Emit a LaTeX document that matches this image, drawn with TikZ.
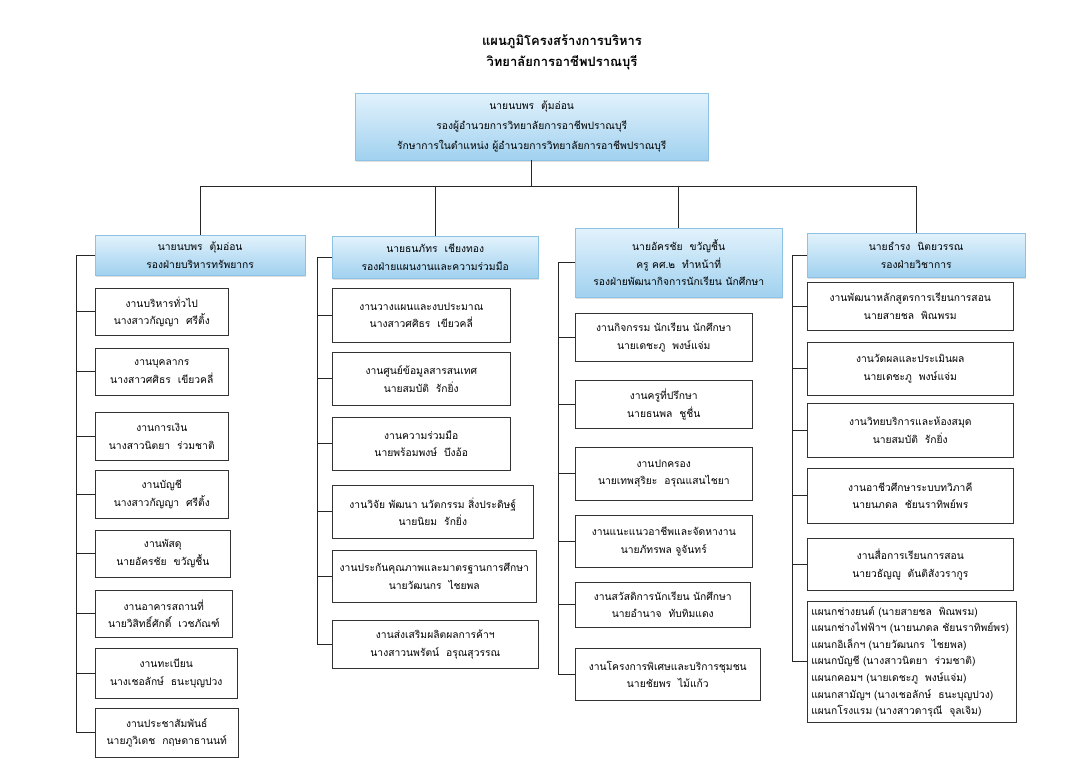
\documentclass[tikz,border=0pt]{standalone}
\usepackage{fontspec}
\newfontfamily\thaifont[Script=Thai]{Loma}
\usetikzlibrary{positioning,shadows}
\definecolor{headtop}{RGB}{226,242,252}
\definecolor{headbot}{RGB}{160,209,239}
\definecolor{headline}{RGB}{140,195,228}

\begin{document}
\begin{tikzpicture}[x=1pt,y=-1pt,
every node/.style = {font=\thaifont\fontsize{10.3}{17.5}\selectfont, align=center},
  head/.style = {draw=headline, top color=headtop, bottom color=headbot, anchor=north west,
    drop shadow={opacity=0.25, shadow xshift=1pt, shadow yshift=-2pt}, inner sep=2pt},
  jobbox/.style = {draw=black!80, line width=0.6pt, fill=white, anchor=north west, inner sep=2pt},
  link/.style = {draw=black!85, line width=0.8pt}
]
\path[fill=white] (0,0) rectangle (1079,767);
\useasboundingbox (0,0) rectangle (1079,767);

% title
\node[font=\thaifont\bfseries\fontsize{13}{21}\selectfont] (title) at (562,52)
  {แผนภูมิโครงสร้างการบริหาร\\วิทยาลัยการอาชีพปราณบุรี};

% director
\node[head, minimum width=353, minimum height=67, font=\thaifont\fontsize{10.3}{20}\selectfont] (top) at (355,93)
  {นายนบพร~~ตุ้มอ่อน\\รองผู้อำนวยการวิทยาลัยการอาชีพปราณบุรี\\รักษาการในตำแหน่ง ผู้อำนวยการวิทยาลัยการอาชีพปราณบุรี};

% deputies
\node[head, minimum width=210, minimum height=40] (h1) at (95,235) {นายนบพร~~ตุ้มอ่อน\\รองฝ่ายบริหารทรัพยากร};
\node[head, minimum width=206, minimum height=42] (h2) at (332,236) {นายธนภัทร~~เชียงทอง\\รองฝ่ายแผนงานและความร่วมมือ};
\node[head, minimum width=207, minimum height=69] (h3) at (575,228) {นายอัครชัย~~ขวัญชื้น\\ครู คศ.๒~~ทำหน้าที่\\รองฝ่ายพัฒนากิจการนักเรียน นักศึกษา};
\node[head, minimum width=218, minimum height=44] (h4) at (807,233) {นายธำรง~~นิตยวรรณ\\รองฝ่ายวิชาการ};

\draw[link] (top.south) -- ++(0,26) coordinate (bus);
\foreach \h in {h1,h2,h3,h4}
  \draw[link] (\h.north) |- (bus);

% resources
\foreach \t/\h/\w/\job/\who [count=\i] in {
  288/47/133/งานบริหารทั่วไป/นางสาวกัญญา~~ศรีติ้ง,
  348/47/133/งานบุคลากร/นางสาวศศิธร~~เขียวคลี่,
  412/48/133/งานการเงิน/นางสาวนิตยา~~ร่วมชาติ,
  470/48/133/งานบัญชี/นางสาวกัญญา~~ศรีติ้ง,
  530/47/135/งานพัสดุ/นายอัครชัย~~ขวัญชื้น,
  590/47/137/งานอาคารสถานที่/นายวิสิทธิ์ศักดิ์~~เวชภัณฑ์,
  648/50/142/งานทะเบียน/นางเชอลักษ์~~ธนะบุญปวง,
  708/49/143/งานประชาสัมพันธ์/นายภูวิเดช~~กฤษดาธานนท์}
  \node[jobbox, minimum width=\w, minimum height=\h] (a\i) at (95,\t) {\job\\\who};
\coordinate (s1) at (76,0);
\draw[link] (h1.west) -| (a8.west -| s1) -- (a8.west);
\foreach \i in {1,...,7}
  \draw[link] (a\i.west) -- (a\i.west -| s1);

% planning
\foreach \t/\h/\w/\job/\who [count=\i] in {
  288/54/178/งานวางแผนและงบประมาณ/นางสาวศศิธร~~เขียวคลี่,
  352/53/178/งานศูนย์ข้อมูลสารสนเทศ/นายสมบัติ~~รักยิ่ง,
  417/53/178/งานความร่วมมือ/นายพร้อมพงษ์~~บึงอ้อ,
  485/53/201/งานวิจัย พัฒนา นวัตกรรม สิ่งประดิษฐ์/นายนิยม~~รักยิ่ง,
  550/52/204/งานประกันคุณภาพและมาตรฐานการศึกษา/นายวัฒนกร~~ไชยพล,
  620/48/206/งานส่งเสริมผลิตผลการค้าฯ/นางสาวนพรัตน์~~อรุณสุวรรณ}
  \node[jobbox, minimum width=\w, minimum height=\h] (b\i) at (332,\t) {\job\\\who};
\coordinate (s2) at (317,0);
\draw[link] (h2.west) -| (b6.west -| s2) -- (b6.west);
\foreach \i in {1,...,5}
  \draw[link] (b\i.west) -- (b\i.west -| s2);

% students
\foreach \t/\h/\w/\job/\who [count=\i] in {
  313/48/177/งานกิจกรรม นักเรียน นักศึกษา/นายเดชะภู~~พงษ์แจ่ม,
  380/48/177/งานครูที่ปรึกษา/นายธนพล~~ชูชื่น,
  447/53/177/งานปกครอง/นายเทพสุริยะ~~อรุณแสนไชยา,
  515/52/177/งานแนะแนวอาชีพและจัดหางาน/นายภัทรพล จูจันทร์,
  582/45/175/งานสวัสดิการนักเรียน นักศึกษา/นายอำนาจ~~ทับทิมแดง,
  648/52/185/งานโครงการพิเศษและบริการชุมชน/นายชัยพร~~ไม้แก้ว}
  \node[jobbox, minimum width=\w, minimum height=\h] (c\i) at (575,\t) {\job\\\who};
\coordinate (s3) at (558,0);
\draw[link] (h3.west) -| (c6.west -| s3) -- (c6.west);
\foreach \i in {1,...,5}
  \draw[link] (c\i.west) -- (c\i.west -| s3);

% academic
\foreach \t/\h/\job/\who [count=\i] in {
  282/48/งานพัฒนาหลักสูตรการเรียนการสอน/นายสายชล~~พิณพรม,
  342/53/งานวัดผลและประเมินผล/นายเดชะภู~~พงษ์แจ่ม,
  403/54/งานวิทยบริการและห้องสมุด/นายสมบัติ~~รักยิ่ง,
  468/55/งานอาชีวศึกษาระบบทวิภาคี/นายนภดล~~ชัยนราทิพย์พร,
  538/52/งานสื่อการเรียนการสอน/นายวธัญญู~~ตันติสังวรากูร}
  \node[jobbox, minimum width=206, minimum height=\h] (d\i) at (807,\t) {\job\\\who};
\node[jobbox, minimum width=209, minimum height=121, text width=201, align=left, inner xsep=4pt,
  font=\thaifont\fontsize{10.3}{16.6}\selectfont] (d6) at (807,601)
  {แผนกช่างยนต์ (นายสายชล~~พิณพรม)\\
   แผนกช่างไฟฟ้าฯ (นายนภดล ชัยนราทิพย์พร)\\
   แผนกอิเล็กฯ (นายวัฒนกร~~ไชยพล)\\
   แผนกบัญชี (นางสาวนิตยา~~ร่วมชาติ)\\
   แผนกคอมฯ (นายเดชะภู~~พงษ์แจ่ม)\\
   แผนกสามัญฯ (นางเชอลักษ์~~ธนะบุญปวง)\\
   แผนกโรงแรม (นางสาวดารุณี~~จุลเจิม)};
\coordinate (s4) at (792,0);
\draw[link] (h4.west) -| (d6.west -| s4) -- (d6.west);
\foreach \i in {1,...,5}
  \draw[link] (d\i.west) -- (d\i.west -| s4);
\end{tikzpicture}
\end{document}
